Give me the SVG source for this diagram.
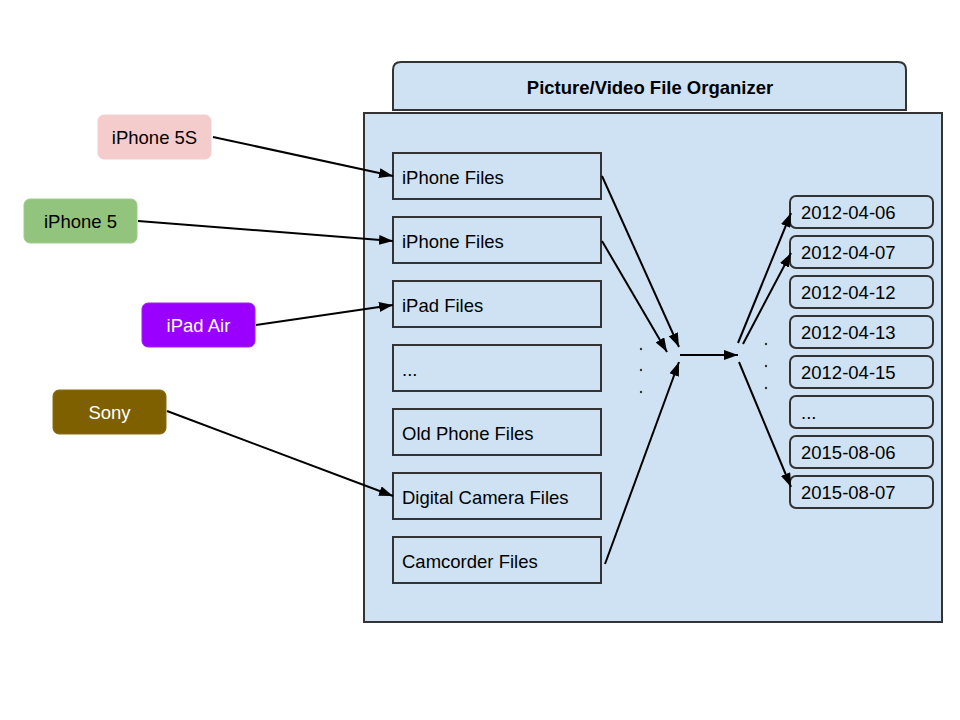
<svg xmlns="http://www.w3.org/2000/svg" width="960" height="720" viewBox="0 0 960 720">
<defs>
<marker id="ah" viewBox="0 0 14 10" refX="14" refY="5" markerWidth="14" markerHeight="10" markerUnits="userSpaceOnUse" orient="auto">
<path d="M0,0 L14,5 L0,10 Z" fill="#000"/>
</marker>
<style>
.t{font-family:"Liberation Sans",Arial,sans-serif;font-size:18.5px;fill:#000}
.w{fill:#fff}
.b{fill:#cfe2f3;stroke:#333;stroke-width:2}
.c{stroke:#000;stroke-width:2;fill:none;marker-end:url(#ah)}
.dot{fill:#333}
</style>
</defs>
<rect width="960" height="720" fill="#fff"/>
<g id="organizer">
<path class="b" d="M393,110 L393,70 Q393,62 401,62 L898,62 Q906,62 906,70 L906,110 Z"/>
<text class="t" x="650" y="94" text-anchor="middle" font-weight="bold">Picture/Video File Organizer</text>
<rect class="b" x="364" y="113" width="578" height="509"/>
</g>
<g id="devices">
<g id="iphone5s"><rect x="98" y="115" width="113" height="44" rx="6" fill="#f4cccc" stroke="#f0d0d0"/><text class="t" x="154.5" y="144" text-anchor="middle">iPhone 5S</text></g>
<g id="iphone5"><rect x="24" y="199" width="113" height="44" rx="6" fill="#93c47d" stroke="#a0cc8c"/><text class="t" x="80.5" y="228" text-anchor="middle">iPhone 5</text></g>
<g id="ipadair"><rect x="142" y="303" width="113" height="44" rx="6" fill="#9900ff" stroke="#a020ff"/><text class="t w" x="198.5" y="332" text-anchor="middle">iPad Air</text></g>
<g id="sony"><rect x="53" y="390" width="113" height="44" rx="6" fill="#7f6000" stroke="#8a6d10"/><text class="t w" x="109.5" y="419" text-anchor="middle">Sony</text></g>
</g>
<g id="folders">
<g id="f1"><rect class="b" x="393" y="153" width="208" height="46"/><text class="t" x="402" y="184">iPhone Files</text></g>
<g id="f2"><rect class="b" x="393" y="217" width="208" height="46"/><text class="t" x="402" y="248">iPhone Files</text></g>
<g id="f3"><rect class="b" x="393" y="281" width="208" height="46"/><text class="t" x="402" y="312">iPad Files</text></g>
<g id="f4"><rect class="b" x="393" y="345" width="208" height="46"/><text class="t" x="402" y="376">...</text></g>
<g id="f5"><rect class="b" x="393" y="409" width="208" height="46"/><text class="t" x="402" y="440">Old Phone Files</text></g>
<g id="f6"><rect class="b" x="393" y="473" width="208" height="46"/><text class="t" x="402" y="504">Digital Camera Files</text></g>
<g id="f7"><rect class="b" x="393" y="537" width="208" height="46"/><text class="t" x="402" y="568">Camcorder Files</text></g>
</g>
<g id="dates">
<g id="d1"><rect class="b" x="790" y="196" width="143" height="32" rx="6"/><text class="t" x="801" y="219">2012-04-06</text></g>
<g id="d2"><rect class="b" x="790" y="236" width="143" height="32" rx="6"/><text class="t" x="801" y="259">2012-04-07</text></g>
<g id="d3"><rect class="b" x="790" y="276" width="143" height="32" rx="6"/><text class="t" x="801" y="299">2012-04-12</text></g>
<g id="d4"><rect class="b" x="790" y="316" width="143" height="32" rx="6"/><text class="t" x="801" y="339">2012-04-13</text></g>
<g id="d5"><rect class="b" x="790" y="356" width="143" height="32" rx="6"/><text class="t" x="801" y="379">2012-04-15</text></g>
<g id="d6"><rect class="b" x="790" y="396" width="143" height="32" rx="6"/><text class="t" x="801" y="419">...</text></g>
<g id="d7"><rect class="b" x="790" y="436" width="143" height="32" rx="6"/><text class="t" x="801" y="459">2015-08-06</text></g>
<g id="d8"><rect class="b" x="790" y="476" width="143" height="32" rx="6"/><text class="t" x="801" y="499">2015-08-07</text></g>
</g>
<g id="dots">
<circle class="dot" cx="641" cy="349" r="1.2"/>
<circle class="dot" cx="641" cy="370" r="1.2"/>
<circle class="dot" cx="641" cy="392" r="1.2"/>
<circle class="dot" cx="766" cy="344" r="1.2"/>
<circle class="dot" cx="766" cy="366" r="1.2"/>
<circle class="dot" cx="766" cy="388" r="1.2"/>
</g>
<g id="connectors">
<line class="c" x1="213" y1="137" x2="393" y2="176"/>
<line class="c" x1="138" y1="221" x2="393" y2="241"/>
<line class="c" x1="256" y1="325" x2="393" y2="305"/>
<line class="c" x1="167" y1="411" x2="393" y2="496"/>
<line class="c" x1="602" y1="176" x2="679" y2="347"/>
<line class="c" x1="602" y1="241" x2="667" y2="352"/>
<line class="c" x1="605" y1="564" x2="679" y2="362"/>
<line class="c" x1="680" y1="355" x2="738" y2="355"/>
<line class="c" x1="738" y1="343" x2="791" y2="213"/>
<line class="c" x1="743" y1="344" x2="791" y2="253"/>
<line class="c" x1="739" y1="362" x2="791" y2="487"/>
</g>
</svg>
